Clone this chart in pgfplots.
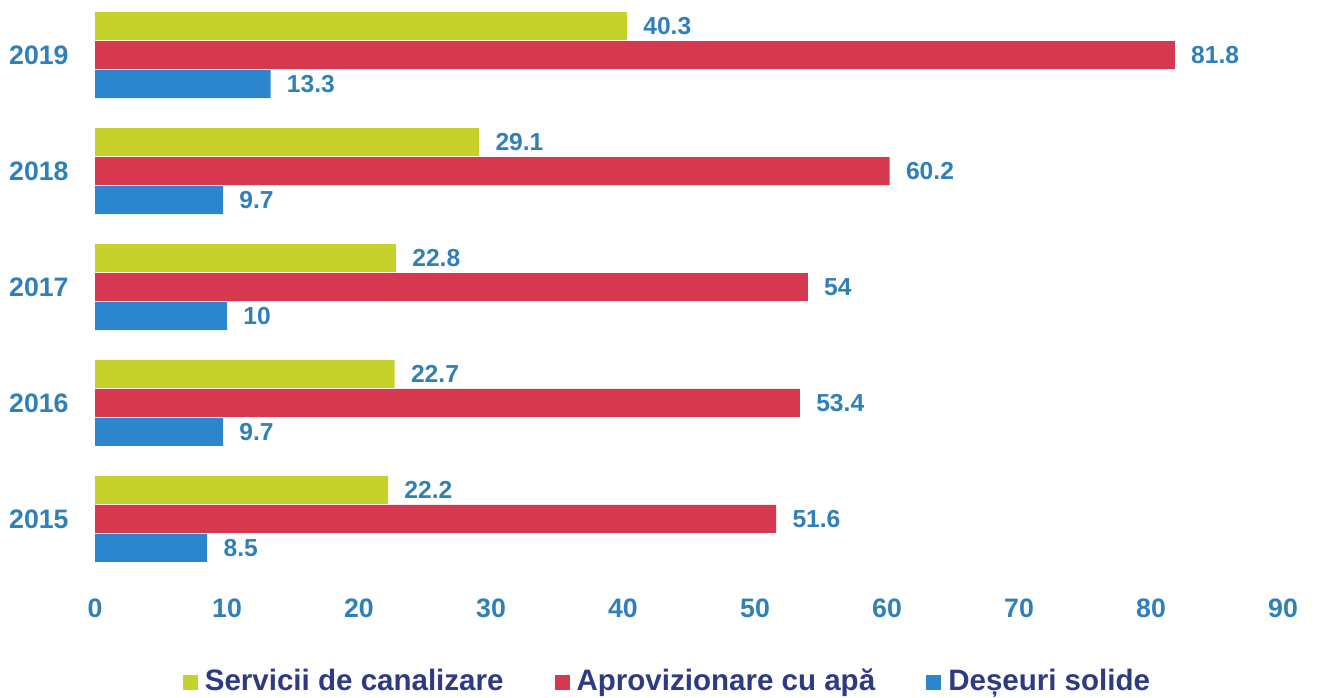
\documentclass[border=0pt]{standalone}
\usepackage{fontspec}
\setmainfont{Liberation Sans}
\usepackage{pgfplots}
\pgfplotsset{compat=1.18}

\definecolor{cgreen}{HTML}{C6D22C}
\definecolor{cred}{HTML}{D5384F}
\definecolor{cblue}{HTML}{2B86CD}
\definecolor{labblue}{HTML}{2F80B9}
\definecolor{navy}{HTML}{2E3A82}

\begin{document}
\begin{tikzpicture}
\begin{axis}[
  scale only axis,
  width=118.8mm, height=58.2mm,
  xbar, bar width=2.8mm,
  xmin=0, xmax=90,
  ymin=-0.57, ymax=4.45,
  xtick={0,10,...,90},
  ytick={0,1,2,3,4},
  yticklabels={2015,2016,2017,2018,2019},
  axis line style={draw=none},
  tick style={draw=none},
  /pgf/number format/assume math mode=true,
  ticklabel style={font=\bfseries\fontsize{7.6}{9}\selectfont, text=labblue},
  yticklabel style={xshift=0.1mm},
  xticklabel style={yshift=-0.1mm},
  nodes near coords,
  every node near coord/.append style={font=\bfseries\fontsize{7}{9}\selectfont, text=labblue, xshift=0.4mm},
  legend style={draw=none, fill=none, at={(0.484,-0.168)}, anchor=center,
    legend columns=3, font=\bfseries\fontsize{8.4}{10}\selectfont, text=navy,
    /tikz/every even column/.append style={column sep=4.4mm}},
]
\addplot[fill=cgreen, draw=none, bar shift=2.9mm,
  legend image code/.code={\fill[cgreen] (0,-0.075cm) rectangle (0.15cm,0.075cm);}]
  coordinates {(22.2,0) (22.7,1) (22.8,2) (29.1,3) (40.3,4)};
\addplot[fill=cred, draw=none, bar shift=0mm,
  legend image code/.code={\fill[cred] (0,-0.075cm) rectangle (0.15cm,0.075cm);}]
  coordinates {(51.6,0) (53.4,1) (54,2) (60.2,3) (81.8,4)};
\addplot[fill=cblue, draw=none, bar shift=-2.9mm,
  legend image code/.code={\fill[cblue] (0,-0.075cm) rectangle (0.15cm,0.075cm);}]
  coordinates {(8.5,0) (9.7,1) (10,2) (9.7,3) (13.3,4)};
\legend{Servicii de canalizare, Aprovizionare cu apă, Deșeuri solide}
\end{axis}
\pgfresetboundingbox
\useasboundingbox ([xshift=-9.5mm,yshift=-11.2mm]current axis.south west) rectangle ([xshift=3.6mm,yshift=0.3mm]current axis.north east);
\end{tikzpicture}
\end{document}
